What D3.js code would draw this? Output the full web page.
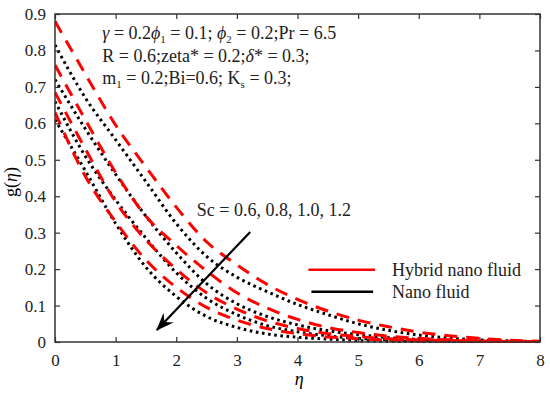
<!DOCTYPE html>
<html>
<head>
<meta charset="utf-8">
<script src="https://cdn.jsdelivr.net/npm/d3@7"></script>
<style>
  body { margin: 0; background: #fff; }
  svg text { font-family: "Liberation Serif", "DejaVu Serif", serif; }
</style>
</head>
<body>
<div id="main"></div>
<script>
// eta grid and g(eta) values
let eta = [0, 0.5, 1, 1.5, 2, 2.5, 3, 3.5, 4, 4.5, 5, 5.5, 6, 6.5, 7, 7.5, 8]

// hybrid nano fluid, Sc = 0.6, 0.8, 1.0, 1.2
let hybrid06 = [0.88, 0.735, 0.595, 0.48, 0.37, 0.275, 0.212, 0.158, 0.117, 0.085, 0.06, 0.042, 0.027, 0.017, 0.01, 0.005, 0.002]
let hybrid08 = [0.76, 0.61, 0.465, 0.345, 0.265, 0.195, 0.135, 0.093, 0.062, 0.04, 0.026, 0.016, 0.01, 0.006, 0.003, 0.002, 0.001]
let hybrid10 = [0.685, 0.53, 0.385, 0.28, 0.2, 0.135, 0.09, 0.058, 0.037, 0.023, 0.015, 0.009, 0.006, 0.004, 0.002, 0.001, 0]
let hybrid12 = [0.63, 0.455, 0.33, 0.225, 0.15, 0.095, 0.06, 0.037, 0.023, 0.014, 0.009, 0.005, 0.003, 0.002, 0.001, 0, 0]

// nano fluid, Sc = 0.6, 0.8, 1.0, 1.2
let nano06 = [0.815, 0.67, 0.555, 0.44, 0.325, 0.235, 0.178, 0.138, 0.103, 0.075, 0.05, 0.032, 0.019, 0.011, 0.006, 0.003, 0.001]
let nano08 = [0.72, 0.585, 0.46, 0.345, 0.245, 0.16, 0.105, 0.07, 0.047, 0.031, 0.02, 0.012, 0.007, 0.004, 0.002, 0.001, 0]
let nano10 = [0.66, 0.51, 0.39, 0.285, 0.19, 0.12, 0.075, 0.045, 0.028, 0.017, 0.01, 0.006, 0.004, 0.002, 0.001, 0, 0]
let nano12 = [0.61, 0.47, 0.325, 0.205, 0.125, 0.07, 0.04, 0.022, 0.013, 0.008, 0.004, 0.002, 0.001, 0, 0, 0, 0]

let xTicks = [0, 1, 2, 3, 4, 5, 6, 7, 8]
let yTicks = [0, 0.1, 0.2, 0.3, 0.4, 0.5, 0.6, 0.7, 0.8, 0.9]
let legendLabels = ["Hybrid nano fluid", "Nano fluid"]

let hybridSeries = [hybrid06, hybrid08, hybrid10, hybrid12]
let nanoSeries = [nano06, nano08, nano10, nano12]

let serif = "Liberation Serif, DejaVu Serif, serif"
let margin = {top: 14, right: 10, bottom: 52, left: 55}
let W = 550, H = 394
let pxX = W - margin.left - margin.right,
    pxY = H - margin.top - margin.bottom

let svg = d3.select("#main").append("svg")
    .attr("width", W)
    .attr("height", H)
    .attr("font-family", serif)
let g = svg.append("g")
    .attr("transform", `translate(${margin.left} ${margin.top})`)

let scX = d3.scaleLinear().domain([0, 8]).range([0, pxX])
let scY = d3.scaleLinear().domain([0, 0.9]).range([pxY, 0])

g.append("clipPath").attr("id", "clip")
    .append("rect").attr("width", pxX).attr("height", pxY + 2).attr("y", -1)

let makeLine = d3.line()
    .x((d, i) => scX(eta[i]))
    .y(d => scY(d))
    .curve(d3.curveMonotoneX)

let curves = g.append("g").attr("clip-path", "url(#clip)")

nanoSeries.forEach(vals => {
    curves.append("path")
        .attr("d", makeLine(vals))
        .attr("fill", "none")
        .attr("stroke", "#000")
        .attr("stroke-width", 3)
        .attr("stroke-dasharray", "2.6,3.6")
})
hybridSeries.forEach(vals => {
    curves.append("path")
        .attr("d", makeLine(vals))
        .attr("fill", "none")
        .attr("stroke", "#f00")
        .attr("stroke-width", 3)
        .attr("stroke-dasharray", "13,9")
})

// axes, matlab style box with inward ticks
let axisCol = "#333"
function styleAxis(sel) {
    sel.attr("font-family", serif)
    sel.select(".domain").remove()
    sel.selectAll("line").attr("stroke", axisCol).attr("stroke-width", 1.2)
    sel.selectAll("text").attr("font-size", 17).attr("fill", "#222")
}
g.append("g").attr("transform", `translate(0, ${pxY})`)
    .call(d3.axisBottom(scX).tickValues(xTicks).tickSizeInner(-5).tickSizeOuter(0).tickPadding(12).tickFormat(d3.format("d")))
    .call(styleAxis)
g.append("g")
    .call(d3.axisTop(scX).tickValues(xTicks).tickSizeInner(-5).tickSizeOuter(0).tickFormat(""))
    .call(styleAxis)
g.append("g")
    .call(d3.axisLeft(scY).tickValues(yTicks).tickSizeInner(-5).tickSizeOuter(0).tickPadding(9)
        .tickFormat(d => d === 0 ? "0" : d3.format(".1f")(d)))
    .call(styleAxis)
g.append("g").attr("transform", `translate(${pxX}, 0)`)
    .call(d3.axisRight(scY).tickValues(yTicks).tickSizeInner(-5).tickSizeOuter(0).tickFormat(""))
    .call(styleAxis)

g.append("rect")
    .attr("width", pxX).attr("height", pxY)
    .attr("fill", "none").attr("stroke", axisCol).attr("stroke-width", 1.5)

// axis labels
g.append("text")
    .attr("x", scX(4.03)).attr("y", pxY + 43)
    .attr("text-anchor", "middle").attr("font-size", 18).attr("font-style", "italic")
    .text("η")
let yl = svg.append("text")
    .attr("transform", `translate(17, ${margin.top + pxY / 2 + 4}) rotate(-90)`)
    .attr("text-anchor", "middle").attr("font-size", 18)
yl.append("tspan").text("g(")
yl.append("tspan").attr("font-style", "italic").text("η")
yl.append("tspan").text(")")

// parameter block
let params = g.append("g").attr("font-size", 18).attr("fill", "#222")
function sub(t, s) {
    t.append("tspan").attr("font-size", 11).attr("dy", 4).text(s)
    return t.append("tspan").attr("dy", -4)
}
let l1 = params.append("text").attr("x", scX(0.78)).attr("y", 25)
l1.append("tspan").attr("font-style", "italic").text("γ")
l1.append("tspan").text(" = 0.2")
l1.append("tspan").attr("font-style", "italic").text("ϕ")
sub(l1, "1").text(" = 0.1; ")
l1.append("tspan").attr("font-style", "italic").text("ϕ")
sub(l1, "2").text(" = 0.2;Pr = 6.5")

let l2 = params.append("text").attr("x", scX(0.78)).attr("y", 48)
l2.append("tspan").text("R = 0.6;zeta* = 0.2;")
l2.append("tspan").attr("font-style", "italic").text("δ")
l2.append("tspan").text("* = 0.3;")

let l3 = params.append("text").attr("x", scX(0.78)).attr("y", 70)
l3.append("tspan").text("m")
sub(l3, "1").text(" = 0.2;Bi=0.6; K")
sub(l3, "s").text(" = 0.3;")

// Sc arrow
let arrowFrom = [3.22, 0.302], arrowTo = [1.68, 0.033]
svg.append("defs").append("marker")
    .attr("id", "head")
    .attr("viewBox", "0 0 18 14")
    .attr("refX", 17).attr("refY", 7)
    .attr("markerWidth", 18).attr("markerHeight", 14)
    .attr("markerUnits", "userSpaceOnUse")
    .attr("orient", "auto")
    .append("path")
    .attr("d", "M0,0 L18,7 L0,14 L6,7 Z")
    .attr("fill", "#000")
g.append("line")
    .attr("x1", scX(arrowFrom[0])).attr("y1", scY(arrowFrom[1]))
    .attr("x2", scX(arrowTo[0])).attr("y2", scY(arrowTo[1]))
    .attr("stroke", "#000").attr("stroke-width", 2.2)
    .attr("marker-end", "url(#head)")
g.append("text")
    .attr("x", scX(2.34)).attr("y", scY(0.345))
    .attr("font-size", 18).attr("fill", "#222")
    .text("Sc = 0.6, 0.8, 1.0, 1.2")

// legend
let legend = g.append("g")
legendLabels.forEach((lab, idx) => {
    let yy = scY(0.198) + idx * 22
    legend.append("line")
        .attr("x1", scX(4.18) + idx * 3).attr("x2", scX(5.28) - idx * 2)
        .attr("y1", yy).attr("y2", yy)
        .attr("stroke", idx === 0 ? "#f00" : "#000")
        .attr("stroke-width", 2.5)
    legend.append("text")
        .attr("x", scX(5.56)).attr("y", yy + 6)
        .attr("font-size", 18).attr("fill", "#222")
        .text(lab)
})
</script>
</body>
</html>
